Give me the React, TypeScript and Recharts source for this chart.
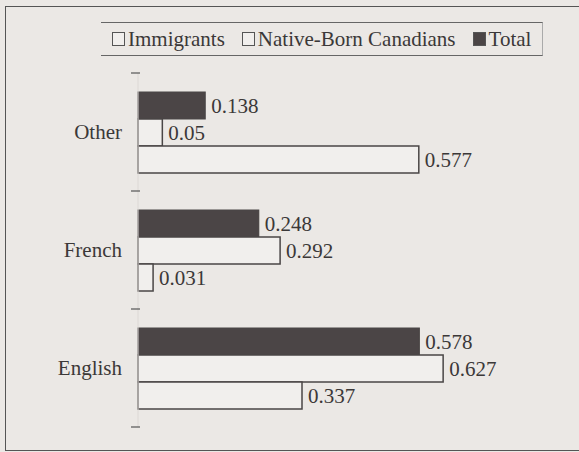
import { BarChart, Bar, XAxis, YAxis, LabelList } from 'recharts';

// Share of each group speaking the language at home
const languages = ['Other', 'French', 'English'];
const immigrants = [0.577, 0.031, 0.337];
const nativeBorn = [0.05, 0.292, 0.627];
const total = [0.138, 0.248, 0.578];

const FONT = "'Liberation Serif', 'DejaVu Serif', serif";
const INK = '#3b3838';
const BG = '#ebe8e5';
const LIGHT = '#f1efed';
const DARK = '#4b4546';
const TICK_SIZE = 6;
const TICK_MARGIN = 10;

const data = languages.map((lang, i) => ({
    lang,
    immigrants: immigrants[i],
    nativeBorn: nativeBorn[i],
    total: total[i],
}));

// legend order differs from drawing order (Total is drawn on top of each group)
const legendItems = [
    { name: 'Immigrants', fill: LIGHT },
    { name: 'Native-Born Canadians', fill: LIGHT },
    { name: 'Total', fill: DARK },
];

function LegendBox() {
    return (
        <div
            style={{
                position: 'absolute',
                left: 101,
                top: 22,
                width: 442,
                height: 34,
                boxSizing: 'border-box',
                borderTop: '1.5px solid #666',
                borderBottom: '1.5px solid #666',
                borderRight: '1px solid #aaa',
                display: 'flex',
                alignItems: 'center',
                paddingLeft: 11,
                fontFamily: FONT,
                fontSize: 21,
                color: INK,
                whiteSpace: 'nowrap',
            }}
        >
            {legendItems.map((item) => (
                <span key={item.name} style={{ display: 'flex', alignItems: 'center', marginRight: 17 }}>
                    <span
                        style={{
                            display: 'inline-block',
                            width: 13,
                            height: 14,
                            boxSizing: 'border-box',
                            border: '1.5px solid #555',
                            background: item.fill,
                            marginRight: 3,
                        }}
                    />
                    {item.name}
                </span>
            ))}
        </div>
    );
}

// category label plus tick marks on the band boundaries (above each band, and below the last)
function CategoryTick(props: any) {
    const { x, y, payload, index, visibleTicksCount } = props;
    const half = payload?.offset ?? 59;
    const axisX = x + TICK_SIZE + TICK_MARGIN;
    const isLast = index === (visibleTicksCount ?? languages.length) - 1;
    return (
        <g>
            <text x={x} y={y} dy="0.355em" textAnchor="end" fill={INK} fontSize={21} fontFamily={FONT}>
                {payload.value}
            </text>
            <line x1={axisX - 7} x2={axisX + 2} y1={y - half} y2={y - half} stroke="#555" strokeWidth={1.2} />
            {isLast && (
                <line x1={axisX - 7} x2={axisX + 2} y1={y + half} y2={y + half} stroke="#555" strokeWidth={1.2} />
            )}
        </g>
    );
}

export default function App() {
    const labelStyle = { fill: INK, fontSize: 21, fontFamily: FONT };
    return (
        <div style={{ position: 'fixed', left: 0, top: 0, width: 579, height: 452, background: BG, overflow: 'hidden' }}>
            <div
                style={{
                    position: 'absolute',
                    left: 5,
                    top: 6,
                    width: 620,
                    height: 445,
                    boxSizing: 'border-box',
                    border: '1.5px solid #555',
                }}
            />
            <div style={{ position: 'absolute', left: 0, top: 0 }}>
                <BarChart
                    layout="vertical"
                    width={579}
                    height={452}
                    data={data}
                    margin={{ top: 73, right: 3, bottom: 25, left: 0 }}
                    barCategoryGap={19}
                    barGap={0}
                >
                    <XAxis type="number" domain={[0, 0.9]} hide />
                    <YAxis
                        type="category"
                        dataKey="lang"
                        width={138}
                        axisLine={{ stroke: '#dcd8d5' }}
                        tickLine={false}
                        tickSize={TICK_SIZE}
                        tickMargin={TICK_MARGIN}
                        tick={<CategoryTick />}
                        interval={0}
                    />
                    <Bar dataKey="total" name="Total" fill={DARK} stroke="#4a4646" strokeWidth={1.2} isAnimationActive={false}>
                        <LabelList dataKey="total" position="right" offset={6} style={labelStyle} />
                    </Bar>
                    <Bar dataKey="nativeBorn" name="Native-Born Canadians" fill={LIGHT} stroke="#4a4646" strokeWidth={1.5} isAnimationActive={false}>
                        <LabelList dataKey="nativeBorn" position="right" offset={6} style={labelStyle} />
                    </Bar>
                    <Bar dataKey="immigrants" name="Immigrants" fill={LIGHT} stroke="#4a4646" strokeWidth={1.5} isAnimationActive={false}>
                        <LabelList dataKey="immigrants" position="right" offset={6} style={labelStyle} />
                    </Bar>
                </BarChart>
            </div>
            <LegendBox />
        </div>
    );
}
